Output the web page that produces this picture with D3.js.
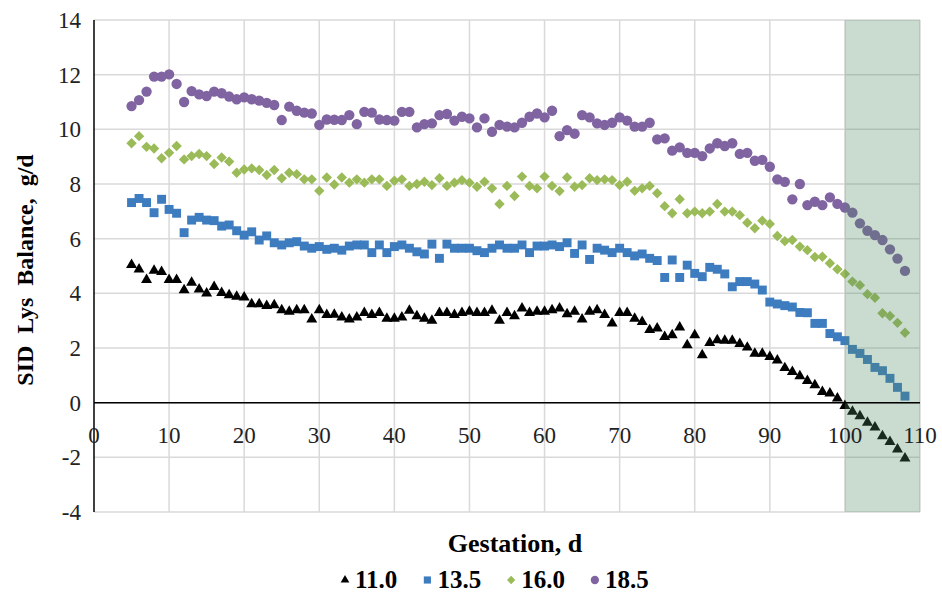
<!DOCTYPE html>
<html>
<head>
<meta charset="utf-8">
<script src="https://cdn.jsdelivr.net/npm/d3@7/dist/d3.min.js"></script>
<style>
  html, body { margin: 0; padding: 0; background: #ffffff; }
  svg { display: block; }
  .serif { font-family: "Liberation Serif", "DejaVu Serif", "Times New Roman", serif; }
</style>
</head>
<body>
<svg id="chart" width="942" height="593"></svg>
<script>
// ---- data ----
const days = [5,6,7,8,9,10,11,12,13,14,15,16,17,18,19,20,21,22,23,24,25,26,27,28,29,30,
  31,32,33,34,35,36,37,38,39,40,41,42,43,44,45,46,47,48,49,50,51,52,53,54,55,56,57,58,59,60,
  61,62,63,64,65,66,67,68,69,70,71,72,73,74,75,76,77,78,79,80,81,82,83,84,85,86,87,88,89,90,
  91,92,93,94,95,96,97,98,99,100,101,102,103,104,105,106,107,108];

const s110 = [5.04,4.88,4.49,4.83,4.79,4.49,4.49,4.12,4.39,4.15,4.0,4.24,4.02,3.94,3.88,3.85,3.61,3.61,3.54,3.57,3.39,3.33,3.39,3.39,3.05,3.39,
  3.21,3.22,3.12,3.05,3.12,3.29,3.21,3.29,3.08,3.08,3.12,3.37,3.17,3.08,3.0,3.29,3.29,3.21,3.29,3.33,3.29,3.29,3.37,3.0,3.29,3.17,3.45,3.29,3.33,3.33,
  3.39,3.45,3.24,3.33,3.05,3.33,3.39,3.21,2.9,3.29,3.29,3.08,2.96,2.66,2.72,2.41,2.47,2.76,2.11,2.47,1.74,2.19,2.29,2.27,2.27,2.15,2.02,1.8,1.8,1.68,
  1.55,1.27,1.13,0.97,0.8,0.64,0.4,0.34,0.16,-0.12,-0.33,-0.49,-0.73,-0.9,-1.22,-1.43,-1.71,-2.04];

const s135 = [7.32,7.47,7.32,6.95,7.44,7.07,6.93,6.22,6.68,6.78,6.68,6.66,6.46,6.5,6.29,6.13,6.25,5.95,6.1,5.85,5.77,5.85,5.89,5.73,5.65,5.71,
  5.61,5.65,5.58,5.73,5.77,5.77,5.49,5.77,5.49,5.71,5.77,5.65,5.52,5.44,5.8,5.28,5.8,5.65,5.65,5.65,5.56,5.49,5.65,5.77,5.65,5.65,5.77,5.49,5.73,5.73,
  5.77,5.71,5.85,5.46,5.77,5.24,5.65,5.58,5.49,5.65,5.49,5.37,5.44,5.28,5.2,4.58,5.22,4.58,5.03,4.73,4.61,4.95,4.88,4.71,4.24,4.43,4.43,4.34,4.12,3.68,
  3.61,3.55,3.5,3.3,3.29,2.9,2.9,2.53,2.41,2.27,1.95,1.8,1.58,1.29,1.17,0.89,0.56,0.24];

const s160 = [9.49,9.75,9.36,9.3,8.94,9.14,9.39,8.9,9.02,9.1,9.02,8.73,8.97,8.82,8.41,8.53,8.57,8.51,8.33,8.51,8.21,8.41,8.36,8.17,8.17,7.75,
  8.24,7.98,8.24,8.05,8.17,8.05,8.17,8.17,7.93,8.12,8.17,7.93,8.0,8.08,7.96,8.21,7.93,8.05,8.14,8.05,7.9,8.08,7.84,7.27,7.93,7.56,8.27,7.93,7.84,8.27,
  7.93,7.74,8.24,7.9,7.96,8.21,8.14,8.17,8.14,7.96,8.08,7.75,7.84,7.93,7.66,7.19,6.93,7.44,6.93,6.99,6.93,6.99,7.27,6.99,6.99,6.86,6.58,6.38,6.66,6.54,
  6.1,5.91,5.95,5.71,5.58,5.33,5.34,5.1,4.88,4.71,4.43,4.3,3.97,3.84,3.27,3.17,2.92,2.56];

const s185 = [10.85,11.07,11.38,11.93,11.93,12.01,11.66,11.0,11.4,11.28,11.22,11.38,11.32,11.2,11.1,11.17,11.1,11.05,10.97,10.89,10.34,10.83,10.68,10.61,10.58,10.16,
  10.36,10.35,10.34,10.52,10.19,10.64,10.61,10.36,10.34,10.32,10.64,10.64,10.07,10.19,10.22,10.52,10.56,10.32,10.46,10.4,10.07,10.4,9.91,10.16,10.1,10.07,10.24,10.46,10.58,10.44,
  10.68,9.75,9.97,9.84,10.52,10.44,10.22,10.16,10.24,10.44,10.32,10.1,10.1,10.24,9.63,9.67,9.22,9.34,9.14,9.14,9.02,9.3,9.49,9.39,9.49,9.1,9.14,8.85,8.88,8.63,
  8.17,8.08,7.44,8.0,7.23,7.35,7.23,7.51,7.27,7.14,6.95,6.56,6.29,6.13,5.95,5.61,5.27,4.82];

const seriesNames = ["11.0", "13.5", "16.0", "18.5"];
const xTicks = [0,10,20,30,40,50,60,70,80,90,100,110];
const yTicks = [-4,-2,0,2,4,6,8,10,12,14];
const shadeRange = [100, 110];

// ---- styles ----
const colors = ["#000000", "#3E7CC0", "#9BBB59", "#8064A2"];
const shapes = ["triangle", "square", "diamond", "circle"];

const svg = d3.select("#chart");
const L = 94, R = 920, T = 20, B = 512;

const x = d3.scaleLinear().domain([0, 110]).range([L, R]);
const y = d3.scaleLinear().domain([-4, 14]).range([B, T]);

// grid
const grid = svg.append("g");
grid.selectAll("line.h").data(yTicks).join("line")
  .attr("x1", L).attr("x2", R)
  .attr("y1", d => y(d)).attr("y2", d => y(d))
  .attr("stroke", "#d9d9d9").attr("stroke-width", 1.5);
grid.selectAll("line.v").data(xTicks.filter(d => d > 0)).join("line")
  .attr("x1", d => x(d)).attr("x2", d => x(d))
  .attr("y1", T).attr("y2", B)
  .attr("stroke", "#d9d9d9").attr("stroke-width", 1.5);

function symbolPath(shape) {
  if (shape === "circle") return d3.symbol(d3.symbolCircle, 84)();
  if (shape === "square") return d3.symbol(d3.symbolSquare, 80)();
  if (shape === "diamond") return d3.symbol(d3.symbolSquare, 54)();
  return d3.symbol(d3.symbolTriangle, 52)();
}

const allSeries = [s110, s135, s160, s185];
allSeries.forEach((vals, i) => {
  const pts = days.map((d, j) => ({ d: d, v: vals[j] }));
  svg.append("g").selectAll("path").data(pts).join("path")
    .attr("d", symbolPath(shapes[i]))
    .attr("transform", p => `translate(${x(p.d)},${y(p.v)})` + (shapes[i] === "diamond" ? " rotate(45)" : ""))
    .attr("fill", colors[i]);
});

// shaded region (over points)
svg.append("rect")
  .attr("x", x(shadeRange[0])).attr("y", T)
  .attr("width", x(shadeRange[1]) - x(shadeRange[0]))
  .attr("height", B - T)
  .attr("fill", "rgb(80,140,100)").attr("fill-opacity", 0.3);

// axes lines
svg.append("line").attr("x1", L).attr("x2", L).attr("y1", T).attr("y2", B)
  .attr("stroke", "#000").attr("stroke-width", 1.5);
svg.append("line").attr("x1", L).attr("x2", R).attr("y1", y(0)).attr("y2", y(0))
  .attr("stroke", "#000").attr("stroke-width", 1.5);

// y tick labels
svg.append("g").selectAll("text").data(yTicks).join("text")
  .attr("class", "serif")
  .attr("x", L - 13).attr("y", d => y(d))
  .attr("dy", "0.35em")
  .attr("text-anchor", "end")
  .attr("font-size", 23).attr("fill", "#222")
  .text(d => d);

// x tick labels (just below zero line)
svg.append("g").selectAll("text").data(xTicks).join("text")
  .attr("class", "serif")
  .attr("x", d => x(d)).attr("y", y(0) + 40)
  .attr("text-anchor", "middle")
  .attr("font-size", 23).attr("fill", "#222")
  .text(d => d);

// axis titles
svg.append("text")
  .attr("class", "serif")
  .attr("transform", `translate(33, ${(T + B) / 2 + 4}) rotate(-90)`)
  .attr("text-anchor", "middle")
  .attr("font-size", 24).attr("font-weight", "bold")
  .attr("word-spacing", 6)
  .text("SID Lys Balance, g/d");

svg.append("text")
  .attr("class", "serif")
  .attr("x", 515).attr("y", 552)
  .attr("text-anchor", "middle")
  .attr("font-size", 26).attr("font-weight", "bold")
  .text("Gestation, d");

// legend
const leg = svg.append("g");
let lx = 340;
const ly = 580;
seriesNames.forEach((name, i) => {
  leg.append("path")
    .attr("d", symbolPath(shapes[i]))
    .attr("transform", `translate(${lx + 5},${ly})` + (shapes[i] === "diamond" ? " rotate(45)" : "") + " scale(0.8)")
    .attr("fill", colors[i]);
  const t = leg.append("text")
    .attr("class", "serif")
    .attr("x", lx + 15).attr("y", ly + 8)
    .attr("font-size", 25).attr("font-weight", "bold")
    .text(name);
  const w = t.node().getComputedTextLength();
  lx = lx + 15 + w + 25;
});
</script>
</body>
</html>
